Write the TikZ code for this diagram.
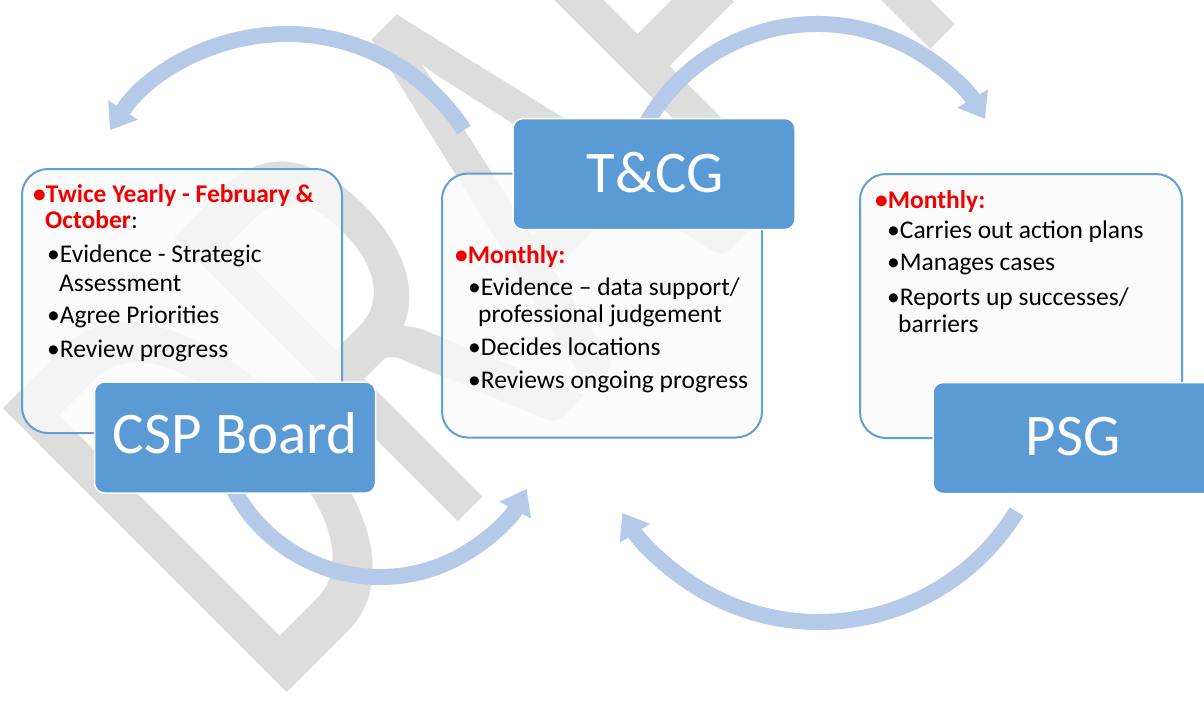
\documentclass[tikz,border=0pt]{standalone}
\usepackage{fontspec}
\setmainfont{Carlito}
\usetikzlibrary{arrows.meta}

\definecolor{hdrblue}{RGB}{91,155,213}
\definecolor{edgeblue}{RGB}{98,158,214}
\definecolor{cyclearrow}{RGB}{181,201,232}
\definecolor{wmgray}{RGB}{221,221,221}
\definecolor{boxfill}{RGB}{251,251,251}
\definecolor{alertred}{RGB}{242,0,0}

\begin{document}
\begin{tikzpicture}[x=1pt,y=-1pt,
  panel/.style={draw=edgeblue, line width=2pt, fill=boxfill, fill opacity=0.78,
    rounded corners=26pt, minimum width=#1, minimum height=264pt, inner sep=0pt},
  header/.style={draw=white, line width=1.5pt, fill=hdrblue, rounded corners=10pt,
    minimum width=#1, minimum height=111pt, inner sep=0pt},
  headtext/.style={text=white, inner sep=0pt, anchor=base,
    font=\fontsize{59}{59}\selectfont},
  line/.style={inner sep=0pt, anchor=base west, font=\fontsize{25.5}{29}\selectfont},
  lead/.style={line, text=alertred, font=\fontsize{25.5}{29}\selectfont\bfseries},
  cycarrow/.style={draw=cyclearrow, line width=16pt,
    -{Triangle[length=24pt,width=34pt]}},
]
\useasboundingbox (0,0) rectangle (1204,702);
\clip (0,0) rectangle (1204,702);
\fill[white] (0,0) rectangle (1204,702);

% watermark: condensed diagonal lettering
\node[rotate=45, xscale=0.625, anchor=base west, inner sep=0pt, text=wmgray,
      font=\fontsize{626}{626}\selectfont] (wm) at (268,712) {DRAFT};

% cycle arrows (centres of their circular arcs)
\coordinate (c1) at (287,245);
\coordinate (c2) at (817,220);
\coordinate (c3) at (380,411);
\coordinate (c4) at (819,390);
\path (c1) ++(-33:211) coordinate (s1);
\path (c2) ++(-152:196) coordinate (s2);
\path (c3) ++(152:166) coordinate (s3);
\path (c4) ++(31.6:232) coordinate (s4);
\draw[cycarrow] (s1) arc[start angle=-33, end angle=-147, radius=211];
\draw[cycarrow] (s2) arc[start angle=-152, end angle=-31, radius=196];
\draw[cycarrow] (s3) arc[start angle=152, end angle=28, radius=166];
\draw[cycarrow] (s4) arc[start angle=31.6, end angle=148, radius=232];

% detail panels
\node[panel=320pt] (pl) at (182,301) {};
\node[panel=320pt] (pm) at (602,305.5) {};
\node[panel=322pt] (pr) at (1021,306) {};

% title boxes
\node[header=281pt] (hl) at (235,437.5) {};
\node[header=282pt] (hm) at (654,174) {};
\node[header=283pt] (hr) at (1074.5,438) {};
\node[headtext] (tl) at (235,453) {CSP Board};
\node[headtext] (tm) at (655,192) {T\&CG};
\node[headtext] (tr) at (1073,455) {PSG};

% CSP Board panel
\node[lead] (l1) at (33,202) {•Twice Yearly - February \&};
\node[line] (l2) at (45,228) {{\bfseries\color{alertred}October}:};
\node[line] (l3) at (47,262) {•Evidence - Strategic};
\node[line] (l4) at (59,291) {Assessment};
\node[line] (l5) at (47,323) {•Agree Priorities};
\node[line] (l6) at (47,357) {•Review progress};

% T&CG panel
\node[lead] (m1) at (455,263) {•Monthly:};
\node[line] (m2) at (468,295) {•Evidence – data support/};
\node[line] (m3) at (478,322) {professional judgement};
\node[line] (m4) at (468,355) {•Decides locations};
\node[line] (m5) at (468,388) {•Reviews ongoing progress};

% PSG panel
\node[lead] (r1) at (875,208) {•Monthly:};
\node[line] (r2) at (887,238) {•Carries out action plans};
\node[line] (r3) at (887,270) {•Manages cases};
\node[line] (r4) at (887,305) {•Reports up successes/};
\node[line] (r5) at (898,332) {barriers};
\end{tikzpicture}
\end{document}
